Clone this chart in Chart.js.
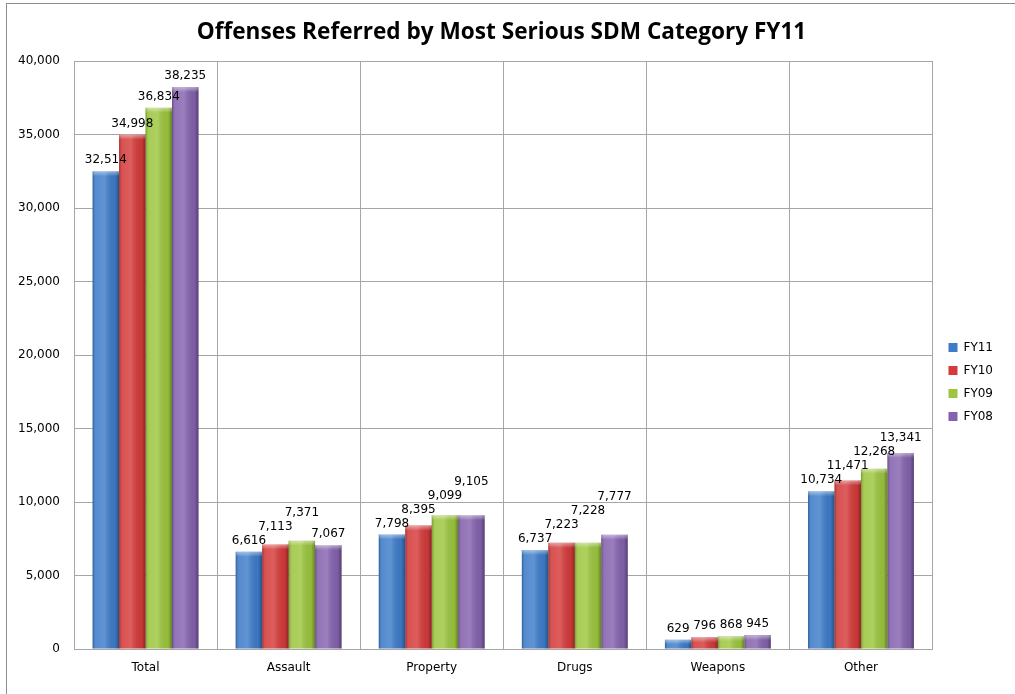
<!DOCTYPE html>
<html>
<head>
<meta charset="utf-8">
<script src="https://cdn.jsdelivr.net/npm/chart.js@4.4.1/dist/chart.umd.min.js"></script>
<style>
  body { margin: 0; background: #fff; }
  .frame { position: absolute; left: 6px; top: 3px; width: 1020px; height: 700px;
           border-left: 1px solid #8c8c8c; border-top: 1px solid #8c8c8c; }
  #chart { position: absolute; left: 0; top: 0; }
</style>
</head>
<body>
<div class="frame"></div>
<canvas id="chart" width="1015" height="694"></canvas>
<script>
var categories = ["Total", "Assault", "Property", "Drugs", "Weapons", "Other"];
var fy11 = [32514, 6616, 7798, 6737, 629, 10734];
var fy10 = [34998, 7113, 8395, 7223, 796, 11471];
var fy09 = [36834, 7371, 9099, 7228, 868, 12268];
var fy08 = [38235, 7067, 9105, 7777, 945, 13341];

var colors = ["#3d7cc9", "#d53a3a", "#9cc63e", "#8462ae"];

// bevel / shine on the bars, like the old office chart
var shinePlugin = {
  id: "shine",
  afterDatasetsDraw: function(chart) {
    var c = chart.ctx;
    chart.data.datasets.forEach(function(ds, i) {
      var meta = chart.getDatasetMeta(i);
      meta.data.forEach(function(bar) {
        var left = bar.x - bar.width / 2;
        var w = bar.width;
        var h = bar.base - bar.y;
        var g = c.createLinearGradient(left, 0, left + w, 0);
        g.addColorStop(0, "rgba(0,0,0,0.25)");
        g.addColorStop(0.12, "rgba(255,255,255,0.12)");
        g.addColorStop(0.45, "rgba(255,255,255,0.18)");
        g.addColorStop(0.85, "rgba(0,0,0,0.05)");
        g.addColorStop(1, "rgba(0,0,0,0.35)");
        c.save();
        c.fillStyle = g;
        c.fillRect(left, bar.y, w, h);
        var top = Math.min(5, h / 2);
        var g2 = c.createLinearGradient(0, bar.y, 0, bar.y + top);
        g2.addColorStop(0, "rgba(255,255,255,0.45)");
        g2.addColorStop(1, "rgba(255,255,255,0)");
        c.fillStyle = g2;
        c.fillRect(left, bar.y, w, top);
        c.restore();
      });
    });
  }
};

// value labels above bars; a label is pushed up if it would collide with
// the label of an earlier bar in the same group
var labelPlugin = {
  id: "valueLabels",
  afterDatasetsDraw: function(chart) {
    var c = chart.ctx;
    var lh = 14;
    c.save();
    c.font = "12px 'DejaVu Sans'";
    c.fillStyle = "#000";
    c.textAlign = "center";
    c.textBaseline = "bottom";
    var n = chart.data.labels.length;
    for (var j = 0; j < n; j++) {
      var placed = [];
      chart.data.datasets.forEach(function(ds, i) {
        var bar = chart.getDatasetMeta(i).data[j];
        var txt = ds.data[j].toLocaleString("en-US");
        var w = c.measureText(txt).width;
        var yb = bar.y - 5;
        var moved = true;
        while (moved) {
          moved = false;
          placed.forEach(function(p) {
            var hx = Math.abs(p.x - bar.x) < (p.w + w) / 2;
            var hy = yb > p.y - lh && yb - lh < p.y;
            if (hx && hy) { yb = p.y - lh; moved = true; }
          });
        }
        placed.push({ x: bar.x, y: yb, w: w });
        c.fillText(txt, bar.x, yb);
      });
    }
    c.restore();
  }
};

var chart = new Chart(document.getElementById("chart"), {
  type: "bar",
  data: {
    labels: categories,
    datasets: [
      { label: "FY11", data: fy11, backgroundColor: colors[0] },
      { label: "FY10", data: fy10, backgroundColor: colors[1] },
      { label: "FY09", data: fy09, backgroundColor: colors[2] },
      { label: "FY08", data: fy08, backgroundColor: colors[3] }
    ]
  },
  options: {
    responsive: false,
    animation: false,
    categoryPercentage: 0.74,
    barPercentage: 1.0,
    layout: { padding: { left: 0, right: 12, top: 0, bottom: 0 } },
    plugins: {
      title: {
        display: true,
        text: "Offenses Referred by Most Serious SDM Category FY11",
        color: "#000",
        font: { family: "'Open Sans'", size: 22.6, weight: "bold" },
        padding: { top: 19, bottom: 15 }
      },
      legend: {
        position: "right",
        title: { display: true, text: "", font: { size: 10 }, padding: { top: 0, bottom: 58 } },
        labels: {
          boxWidth: 9,
          boxHeight: 9,
          padding: 11,
          color: "#000",
          font: { family: "'DejaVu Sans'", size: 12 }
        }
      },
      tooltip: { enabled: false }
    },
    scales: {
      x: {
        grid: { color: "#a6a6a6", offset: true, drawTicks: false },
        border: { color: "#a6a6a6" },
        ticks: { color: "#000", padding: 12, font: { family: "'DejaVu Sans'", size: 12 } },
        afterFit: function(scale) { scale.height = 45; }
      },
      y: {
        min: 0,
        max: 40000,
        ticks: {
          stepSize: 5000,
          color: "#000",
          padding: 14,
          font: { family: "'DejaVu Sans'", size: 12 },
          callback: function(v) { return v.toLocaleString("en-US"); }
        },
        grid: { color: "#a6a6a6", drawTicks: false },
        border: { color: "#a6a6a6" },
        afterFit: function(scale) { scale.width = 74; }
      },
      // empty strip between plot and legend
      gap: {
        position: "right",
        display: true,
        grid: { display: false, drawOnChartArea: false },
        border: { display: false },
        ticks: { display: false },
        afterFit: function(scale) { scale.width = 5; }
      }
    }
  },
  plugins: [shinePlugin, labelPlugin]
});
</script>
</body>
</html>
